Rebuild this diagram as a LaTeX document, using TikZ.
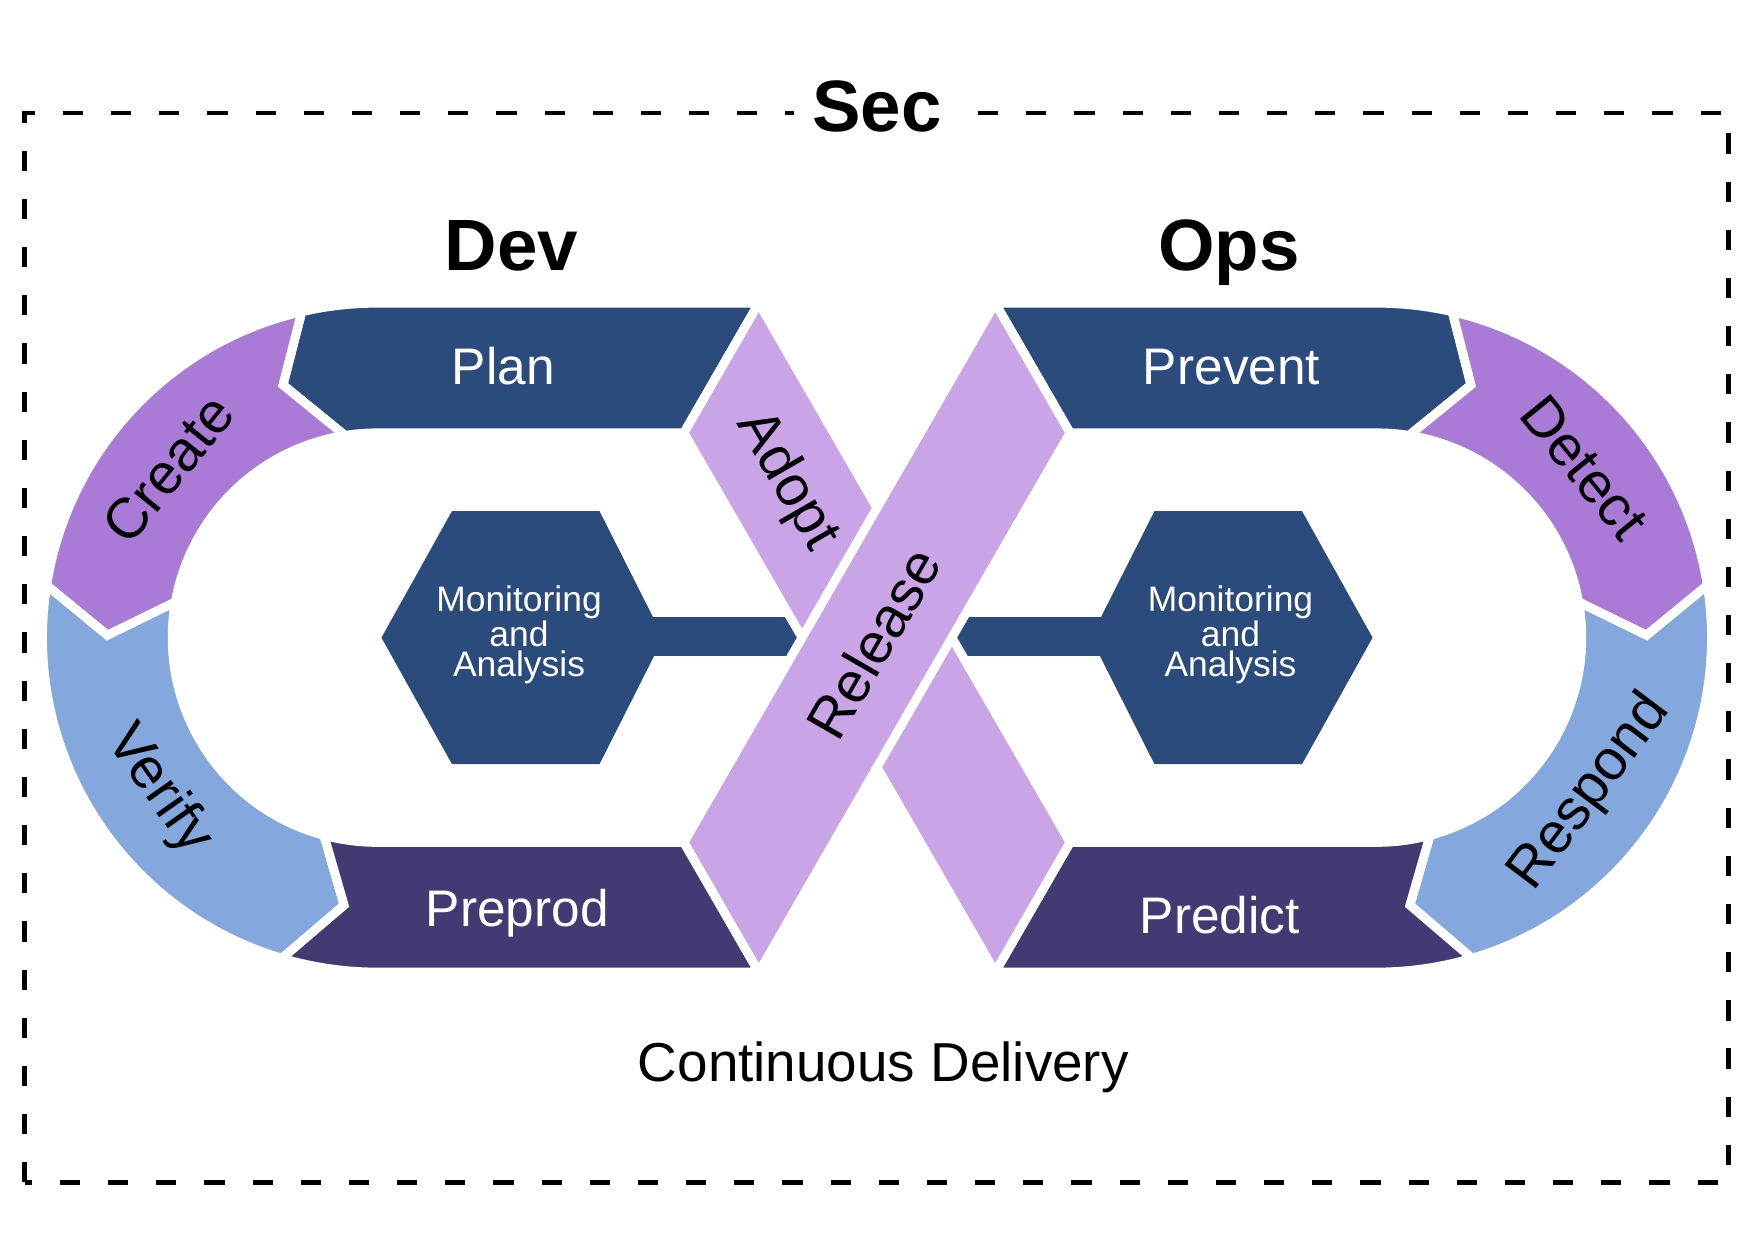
\documentclass[tikz,border=0pt]{standalone}
\usepackage{fontspec}
\setmainfont{Liberation Sans}
\usetikzlibrary{calc}
\definecolor{cblue}{HTML}{2A4B7C}
\definecolor{cdpurp}{HTML}{413A73}
\definecolor{cpurp}{HTML}{A97BD7}
\definecolor{clblue}{HTML}{84A7DE}
\definecolor{clilac}{HTML}{C9A4E7}
\begin{document}
\begin{tikzpicture}[x=0.72pt,y=0.72pt,
  seg/.style={draw=white,line width=5.76pt,line join=miter},
  band/.style={seg,fill=clilac},
  boxlbl/.style={text=white,font=\fontsize{33.1}{40}\selectfont,anchor=base,inner sep=0pt},
  arclbl/.style={text=black,font=\fontsize{36.7}{44}\selectfont,inner sep=0pt},
  head/.style={font=\bfseries\fontsize{46.8}{56}\selectfont,anchor=base},
  mon/.style={text=white,align=center,font=\fontsize{22.8}{19.1}\selectfont,inner sep=0pt},
  secbox/.style={draw=black,line width=3pt,dash pattern=on 13pt off 18pt}]
\useasboundingbox (-784,-539.4) rectangle (784,570);
\coordinate (L) at (-447,0);
\coordinate (R) at (447,0);
% outer dashed frame
\draw[secbox] (-762,-487) rectangle (761,469);
% left loop
\path[seg,fill=cblue] ($(L)+(103:299)$) arc[start angle=103,end angle=90,radius=299] -- (-105.67,299) -- (-172.6,183) -- (-447,183) arc[start angle=90,end angle=99,radius=183] -- ($(L)+(110.4:241)$) -- cycle;
\path[seg,fill=cpurp] ($(L)+(103:299)$) arc[start angle=103,end angle=171,radius=299] -- ($(L)+(179.5:241)$) -- ($(L)+(170:183)$) arc[start angle=170,end angle=99,radius=183] -- ($(L)+(110.4:241)$) -- cycle;
\path[seg,fill=clblue] ($(L)+(171:299)$) arc[start angle=171,end angle=253.5,radius=299] -- ($(L)+(263:241)$) -- ($(L)+(255:183)$) arc[start angle=255,end angle=170,radius=183] -- ($(L)+(179.5:241)$) -- cycle;
\path[seg,fill=cdpurp] ($(L)+(253.5:299)$) arc[start angle=253.5,end angle=270,radius=299] -- (-105.67,-299) -- (-172.6,-183) -- (-447,-183) arc[start angle=270,end angle=255,radius=183] -- ($(L)+(263:241)$) -- cycle;
% right loop
\path[seg,fill=cblue] (105.67,299) -- (447,299) arc[start angle=90,end angle=77,radius=299] -- ($(R)+(69.6:241)$) -- ($(R)+(81:183)$) arc[start angle=81,end angle=90,radius=183] -- (172.6,183) -- cycle;
\path[seg,fill=cpurp] ($(R)+(77:299)$) arc[start angle=77,end angle=9,radius=299] -- ($(R)+(0.5:241)$) -- ($(R)+(10:183)$) arc[start angle=10,end angle=81,radius=183] -- ($(R)+(69.6:241)$) -- cycle;
\path[seg,fill=clblue] ($(R)+(9:299)$) arc[start angle=9,end angle=-73.5,radius=299] -- ($(R)+(-83:241)$) -- ($(R)+(-75:183)$) arc[start angle=-75,end angle=10,radius=183] -- ($(R)+(0.5:241)$) -- cycle;
\path[seg,fill=cdpurp] ($(R)+(-73.5:299)$) arc[start angle=-73.5,end angle=-90,radius=299] -- (105.67,-299) -- (172.6,-183) -- (447,-183) arc[start angle=-90,end angle=-75,radius=183] -- ($(R)+(-83:241)$) -- cycle;
% hexagons and bars
\fill[cblue] (-443,0) -- (-380,113) -- (-248,113) -- (-191,0) -- (-248,-113) -- (-380,-113) -- cycle;
\fill[cblue] (-260,-16) rectangle (0,18);
\fill[cblue] (191,0) -- (248,113) -- (380,113) -- (443,0) -- (380,-113) -- (248,-113) -- cycle;
\fill[cblue] (0,-16) rectangle (260,18);
% X bands
\path[band] (-105.67,299) -- (172.6,-183) -- (105.67,-299) -- (-172.6,183) -- cycle;
\path[band] (105.67,299) -- (172.6,183) -- (-105.67,-299) -- (-172.6,-183) -- cycle;
% labels
\node[boxlbl] (plan) at (-334,226.5) {Plan};
\node[boxlbl] (prevent) at (317,226.5) {Prevent};
\node[boxlbl] (preprod) at (-321.5,-258.5) {Preprod};
\node[boxlbl] (predict) at (306.5,-264.5) {Predict};
\node[arclbl,rotate=51] (create) at ($(L)+(141:240)$) {Create};
\node[arclbl,rotate=-55] (verify) at ($(L)+(215:238)$) {Verify};
\node[arclbl,rotate=-51] (detect) at ($(R)+(39.4:240)$) {Detect};
\node[arclbl,rotate=53] (respond) at ($(R)+(-36:236)$) {Respond};
\node[arclbl,rotate=-60] (adopt) at (-80.8,140) {Adopt};
\node[arclbl,rotate=60] (release) at (-3,-5) {Release};
\node[mon] (monL) at (-320,2.5) {Monitoring\\and\\Analysis};
\node[mon] (monR) at (316,2.5) {Monitoring\\and\\Analysis};
\node[head,fill=white,inner xsep=12pt] (sec) at (0,452.3) {Sec};
\node[head] (dev) at (-327,328) {Dev};
\node[head] (ops) at (314.5,328) {Ops};
\node[font=\fontsize{35.3}{42}\selectfont,anchor=base] (cd) at (5.7,-397) {Continuous Delivery};
\end{tikzpicture}
\end{document}
